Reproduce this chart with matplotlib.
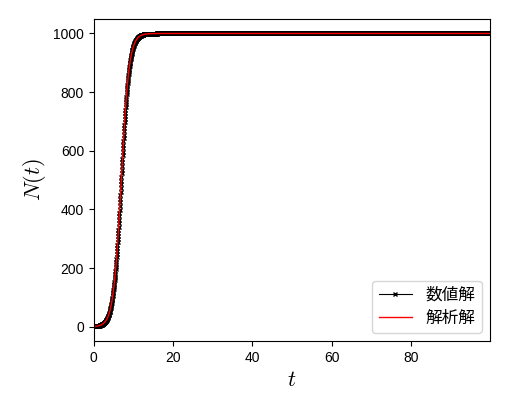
import numpy as np
import matplotlib
matplotlib.use("Agg")
import matplotlib.pyplot as plt

plt.rcParams['font.family'] = ['Liberation Sans', 'Noto Sans CJK JP', 'DejaVu Sans']
plt.rcParams['mathtext.fontset'] = 'cm'

# ロジスティック方程式のパラメータ
r = 1.0
K = 1000.0
N0 = 1.0
dt = 0.05
t_end = 100.0

labels = ["数値解", "解析解"]

t = np.arange(0, t_end, dt)


def f(n):
    return r * n * (1 - n / K)


# 4次のルンゲ・クッタ法
N_num = np.zeros_like(t)
N_num[0] = N0
for i in range(len(t) - 1):
    n = N_num[i]
    k1 = f(n)
    k2 = f(n + dt / 2 * k1)
    k3 = f(n + dt / 2 * k2)
    k4 = f(n + dt * k3)
    N_num[i + 1] = n + dt / 6 * (k1 + 2 * k2 + 2 * k3 + k4)

N_ana = K / (1 + (K / N0 - 1) * np.exp(-r * t))

fig = plt.figure(figsize=(5.1, 4.09), dpi=100)
ax = fig.add_axes([0.184, 0.166, 0.777, 0.788])
ax.plot(t, N_num, color='black', marker='x', markersize=3, linewidth=0.8, label=labels[0])
ax.plot(t, N_ana, color='red', linewidth=1.0, label=labels[1])
ax.set_xlim(t[0], t[-1])
ax.set_xlabel(r'$t$', fontsize=16)
ax.set_ylabel(r'$N(t)$', fontsize=16)
ax.tick_params(labelsize=10)
ax.legend(loc='lower right', fontsize=12)
fig.savefig('out.png')
